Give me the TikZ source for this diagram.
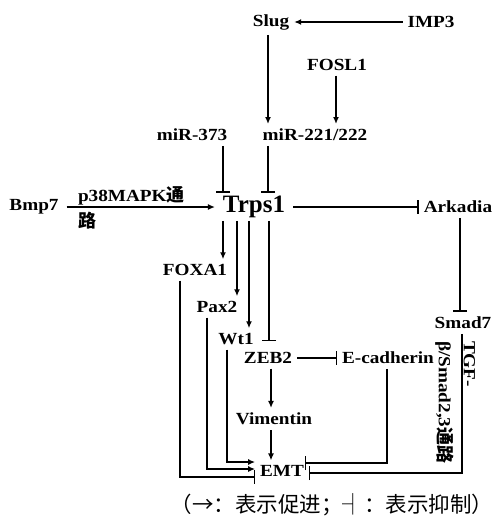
\documentclass[tikz,border=0pt]{standalone}
\usepackage{fontspec}
\setmainfont{Liberation Serif}[FakeStretch=1.13]
\newfontfamily\trpsfont{Liberation Serif}
\newfontfamily\cjkfont{Noto Sans CJK SC}
\newcommand\zhtxt[1]{{\cjkfont\bfseries\fontsize{18}{25}\selectfont #1}}
\usetikzlibrary{arrows.meta}
\begin{document}
\begin{tikzpicture}[x=1pt,y=-1pt,
  lbl/.style={font=\fontsize{17}{25}\selectfont\bfseries, inner sep=1pt, outer sep=4pt},
  act/.style={line width=1.6pt, -{Latex[length=7pt,width=6pt]}},
  inh/.style={line width=1.6pt, -{Bar[width=14pt,line width=1.6pt]}}]
\useasboundingbox (0,0) rectangle (494,522);
% nodes
\node[lbl] (slug) at (271,22) {Slug};
\node[lbl] (imp3) at (431,22) {IMP3};
\node[lbl] (fosl1) at (337,65) {FOSL1};
\node[lbl] (mir373) at (192,135) {miR-373};
\node[lbl] (mir221) at (315,135) {miR-221/222};
\node[lbl] (bmp7) at (34,207) {Bmp7};
\node[font=\trpsfont\fontsize{25}{28}\selectfont\bfseries, inner sep=1pt, outer sep=2pt] (trps1) at (254,207) {Trps1};
\node[lbl] (ark) at (458,207) {Arkadia};
\node[lbl, anchor=base west, inner sep=0pt] (p38a) at (74,201) {p38MAPK\zhtxt{通}};
\node[lbl, anchor=base west, inner sep=0pt] (p38b) at (74,227) {\zhtxt{路}};
\node[lbl] (foxa1) at (195,270) {FOXA1};
\node[lbl] (pax2) at (217,307) {Pax2};
\node[lbl] (wt1) at (236,339) {Wt1};
\node[lbl] (zeb2) at (268,358) {ZEB2};
\node[lbl] (ecad) at (388,358) {E-cadherin};
\node[lbl] (vim) at (274,419) {Vimentin};
\node[lbl] (emt) at (282,471) {EMT};
\node[lbl] (smad7) at (463,323) {Smad7};
\node[lbl, rotate=-90, anchor=north west, align=left] (tgf) at (480,336) {TGF-\\β/Smad2,3\zhtxt{通路}};
\node[font=\cjkfont\fontsize{21.5}{24}\selectfont, inner sep=0pt] (legend) at (332,505) {（→：表示促进；┤：表示抑制）};
% connectors
\draw[act] (imp3.west) -- (slug.east);
\draw[act] (268,0 |- slug.south) -- (268,0 |- mir221.north);
\draw[act] (336,0 |- fosl1.south) -- (336,0 |- mir221.north);
\draw[inh] (223,0 |- mir373.south) -- (223,0 |- trps1.north);
\draw[inh] (268,0 |- mir221.south) -- (268,0 |- trps1.north);
\draw[act, shorten <=3pt, shorten >=5pt] (bmp7.east) -- (trps1.west);
\draw[inh, shorten <=5pt] (trps1.east) -- (ark.west);
\draw[inh] (460,0 |- ark.south) -- (460,0 |- smad7.north);
\draw[act] (223,0 |- trps1.south) -- (223,0 |- foxa1.north);
\draw[act] (237,0 |- trps1.south) -- (237,0 |- pax2.north);
\draw[act] (249,0 |- trps1.south) -- (249,0 |- wt1.north);
\draw[inh, shorten >=6pt] (269,0 |- trps1.south) -- (269,0 |- zeb2.north);
\draw[inh] (zeb2.east) -- (ecad.west);
\draw[act] (271,0 |- zeb2.south) -- (271,0 |- vim.north);
\draw[act] (271,0 |- vim.south) -- (271,0 |- emt.north);
\draw[act] (227,0 |- wt1.south) |- (emt.west |- 0,462);
\draw[act] (207,0 |- pax2.south) |- (emt.west |- 0,469);
\draw[inh] (180,0 |- foxa1.south) |- (emt.west |- 0,477);
\draw[inh, shorten >=-4pt] (387,0 |- ecad.south) |- (emt.east |- 0,463);
\draw[inh] (462,0 |- smad7.south) |- (emt.east |- 0,473);
\end{tikzpicture}
\end{document}
